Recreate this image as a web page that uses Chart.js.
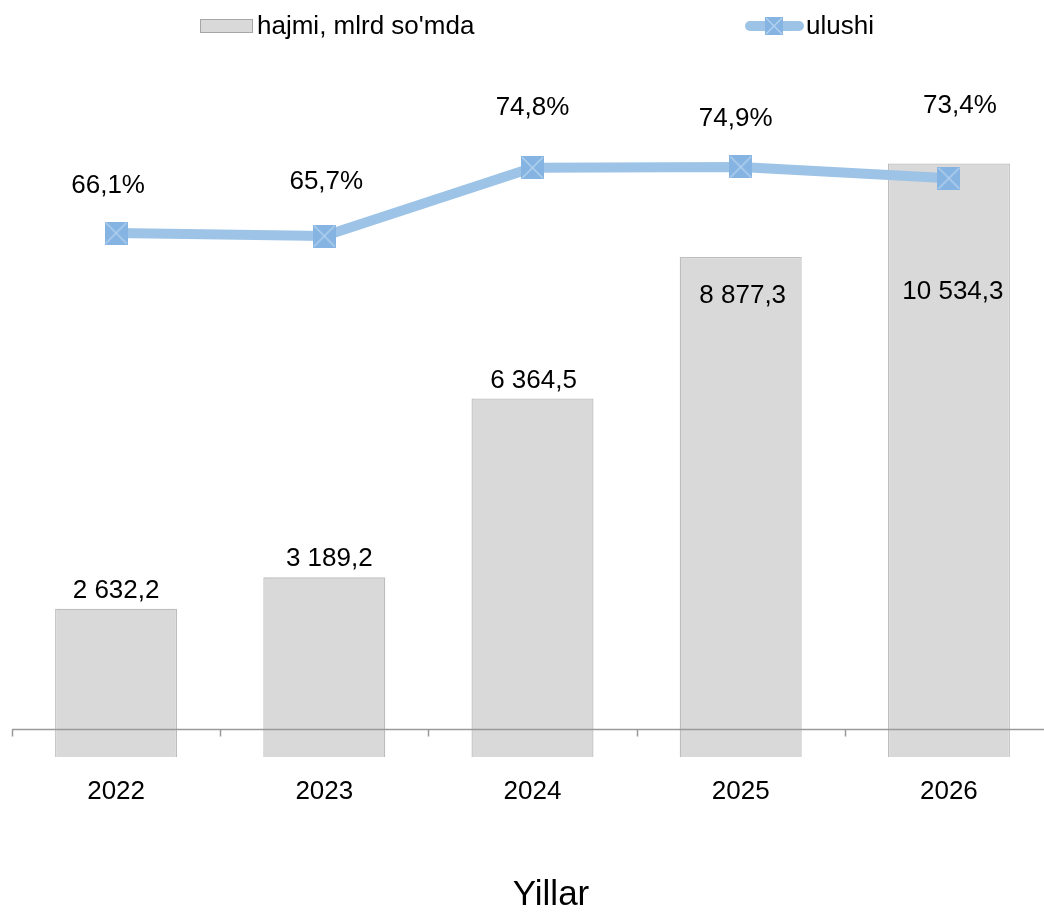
<!DOCTYPE html>
<html>
<head>
<meta charset="utf-8">
<script src="https://cdn.jsdelivr.net/npm/chart.js@4.4.1/dist/chart.umd.min.js"></script>
<style>
  html, body { margin: 0; padding: 0; background: #fff; overflow: hidden; }
  #wrap { width: 1044px; height: 912px; overflow: hidden; position: relative; }
  canvas { display: block; position: absolute; top: 0; left: -10px; }
</style>
</head>
<body>
<div id="wrap"><canvas id="c" width="1085" height="912"></canvas></div>
<script>
// ---- data ----
const categories = ['2022', '2023', '2024', '2025', '2026'];
const volumeValues = [2632.2, 3189.2, 6364.5, 8877.3, 10534.3];
const shareValues = [66.1, 65.7, 74.8, 74.9, 73.4];
const volumeLabel = "hajmi, mlrd so'mda";
const shareLabel = 'ulushi';
const axisTitle = 'Yillar';

// ---- label placement (styling, not data) ----
const barLabelOffsets = [[0, -18], [5, -19], [1, -18], [2, 39], [4, 128]];
const lineLabelOffsets = [[-8, -47], [2, -54], [0, -60], [-5, -48], [11, -72]];

const FONT = '"Liberation Sans", Arial, sans-serif';
const LINE_COLOR = '#9DC3E6';
const MARK_FILL = '#86B4E2';
const MARK_X = '#B5D3EF';

// target plot span on the page
const PLOT_LEFT = 12, PLOT_RIGHT = 1053;

function makeMarker(size) {
  const cv = document.createElement('canvas');
  cv.width = size; cv.height = size;
  const g = cv.getContext('2d');
  g.fillStyle = MARK_FILL;
  g.fillRect(0, 0, size, size);
  g.strokeStyle = MARK_X;
  g.lineWidth = 1.3;
  g.beginPath();
  g.moveTo(1, 1); g.lineTo(size - 1, size - 1);
  g.moveTo(size - 1, 1); g.lineTo(1, size - 1);
  g.stroke();
  return cv;
}
const marker = makeMarker(23);
const legendMarker = makeMarker(18);

function fmtNum(v) {
  const parts = v.toFixed(1).split('.');
  const intPart = parts[0].replace(/\B(?=(\d{3})+(?!\d))/g, ' ');
  return intPart + ',' + parts[1];
}
function fmtPct(v) { return v.toFixed(1).replace('.', ',') + '%'; }

let canvasOffset = -10;
function pageX(x) { return x - canvasOffset; } // page x -> canvas x

const overlayPlugin = {
  id: 'overlay',
  afterDatasetsDraw(chart) {
    const ctx = chart.ctx;
    const area = chart.chartArea;
    const y1 = chart.scales.y1;
    const axisY = Math.round(y1.getPixelForValue(0)) + 0.5;
    ctx.save();
    ctx.strokeStyle = '#9A9A9A';
    ctx.lineWidth = 1.5;
    ctx.beginPath();
    ctx.moveTo(area.left, axisY);
    ctx.lineTo(area.right, axisY);
    const n = categories.length;
    for (let i = 0; i <= n; i++) {
      const px = Math.round(area.left + (area.right - area.left) * i / n) + 0.5;
      ctx.moveTo(px, axisY);
      ctx.lineTo(px, axisY + 7);
    }
    ctx.stroke();
    ctx.restore();

    ctx.save();
    ctx.font = '26px ' + FONT;
    ctx.fillStyle = '#000';
    ctx.textAlign = 'center';
    ctx.textBaseline = 'middle';
    chart.getDatasetMeta(0).data.forEach((el, i) => {
      const o = barLabelOffsets[i];
      ctx.fillText(fmtNum(volumeValues[i]), el.x + o[0], el.y + o[1]);
    });
    chart.getDatasetMeta(1).data.forEach((el, i) => {
      const o = lineLabelOffsets[i];
      ctx.fillText(fmtPct(shareValues[i]), el.x + o[0], el.y + o[1]);
    });
    ctx.restore();
  },
  afterDraw(chart) {
    const ctx = chart.ctx;
    ctx.save();
    ctx.font = '26px ' + FONT;
    ctx.textBaseline = 'middle';
    ctx.textAlign = 'left';
    ctx.fillStyle = '#D9D9D9';
    ctx.fillRect(pageX(200.5), 19.5, 52, 13);
    ctx.strokeStyle = '#A6A6A6';
    ctx.lineWidth = 1;
    ctx.strokeRect(pageX(200.5), 19.5, 52, 13);
    ctx.fillStyle = '#000';
    ctx.fillText(volumeLabel, pageX(257), 27);
    ctx.strokeStyle = LINE_COLOR;
    ctx.lineWidth = 10;
    ctx.lineCap = 'round';
    ctx.beginPath();
    ctx.moveTo(pageX(750), 26);
    ctx.lineTo(pageX(799), 26);
    ctx.stroke();
    ctx.drawImage(legendMarker, pageX(765), 17);
    ctx.fillText(shareLabel, pageX(806), 27);
    ctx.font = '35px ' + FONT;
    ctx.textAlign = 'center';
    ctx.fillText(axisTitle, pageX(551), 895);
    ctx.restore();
  }
};

const canvas = document.getElementById('c');
const chart = new Chart(canvas, {
  data: {
    labels: categories,
    datasets: [
      {
        type: 'bar',
        label: volumeLabel,
        data: volumeValues,
        yAxisID: 'y',
        backgroundColor: '#D9D9D9',
        borderColor: '#BDBDBD',
        borderWidth: 1.3,
        categoryPercentage: 0.586,
        barPercentage: 1,
        order: 2
      },
      {
        type: 'line',
        label: shareLabel,
        data: shareValues,
        yAxisID: 'y1',
        borderColor: LINE_COLOR,
        borderWidth: 10,
        tension: 0,
        pointStyle: marker,
        pointRadius: 12,
        pointHoverRadius: 12,
        order: 1,
        clip: false
      }
    ]
  },
  options: {
    responsive: false,
    animation: false,
    devicePixelRatio: 1,
    layout: { padding: { left: 0, right: 0, top: 81, bottom: 0 } },
    plugins: {
      legend: { display: false },
      tooltip: { enabled: false },
      title: { display: false }
    },
    scales: {
      x: {
        grid: { display: false, drawTicks: false },
        border: { display: false },
        ticks: {
          color: '#000',
          font: { family: FONT, size: 26 },
          padding: 19,
          maxRotation: 0
        },
        afterFit(scale) { scale.height = 155; }
      },
      y: { display: false, min: 0, max: 12000 },
      y1: { display: false, min: -3.73, max: 86.36 }
    }
  },
  plugins: [overlayPlugin]
});

// align the plot area with the reference span
(function align() {
  const a = chart.chartArea;
  const curW = a.right - a.left;
  const wantW = PLOT_RIGHT - PLOT_LEFT;
  const newCanvasW = Math.round(canvas.width + (wantW - curW));
  if (newCanvasW !== canvas.width) chart.resize(newCanvasW, 912);
  canvasOffset = Math.round(PLOT_LEFT - chart.chartArea.left);
  canvas.style.left = canvasOffset + 'px';
  chart.update('none');
})();
</script>
</body>
</html>
